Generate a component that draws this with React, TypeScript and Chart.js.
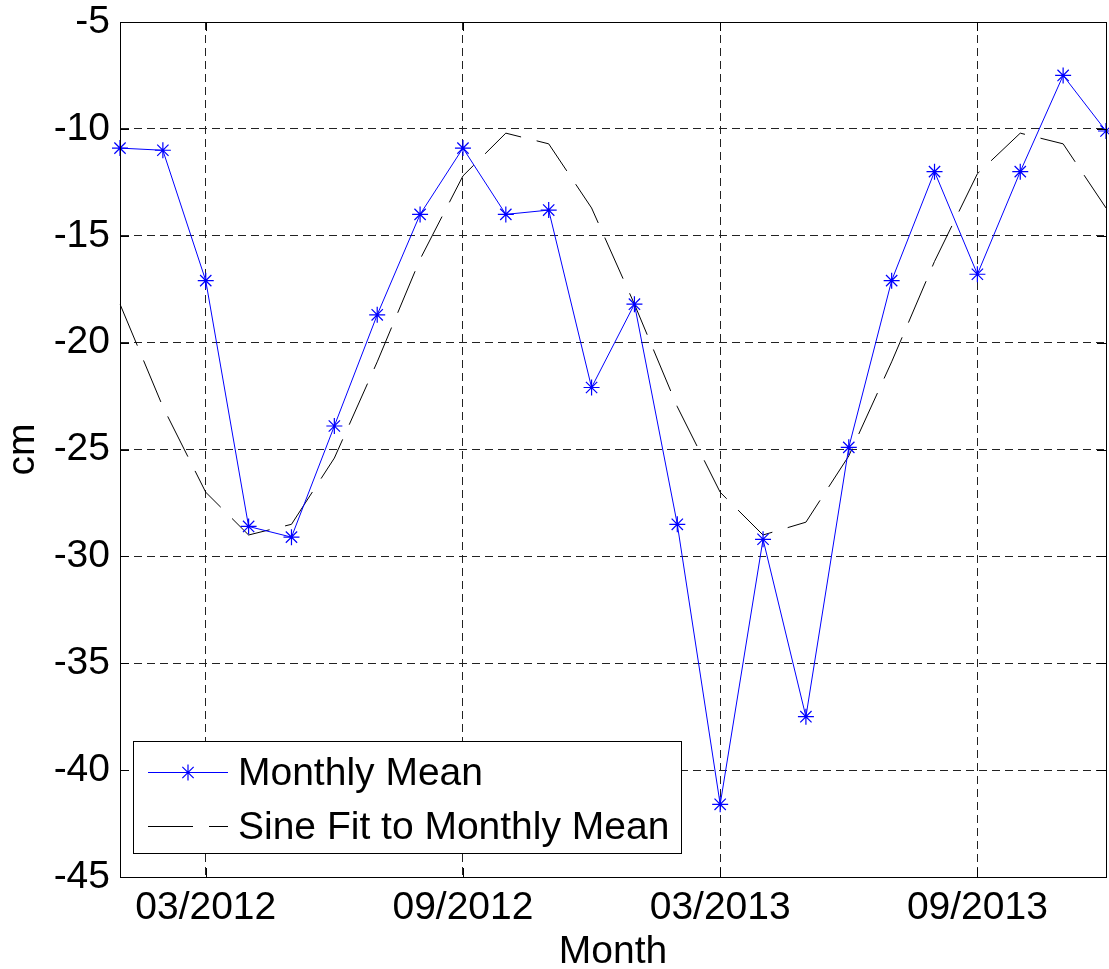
import React, { useEffect, useRef } from "react";
import { Chart, registerables } from "chart.js";

Chart.register(...registerables);

// ---- data ----
const months = [
  "01/2012", "02/2012", "03/2012", "04/2012", "05/2012", "06/2012",
  "07/2012", "08/2012", "09/2012", "10/2012", "11/2012", "12/2012",
  "01/2013", "02/2013", "03/2013", "04/2013", "05/2013", "06/2013",
  "07/2013", "08/2013", "09/2013", "10/2013", "11/2013", "12/2013",
];

const monthlyMean = [
  -10.9, -11.0, -17.1, -28.6, -29.1, -23.9,
  -18.7, -14.0, -10.9, -14.0, -13.8, -22.1,
  -18.2, -28.5, -41.6, -29.2, -37.5, -24.9,
  -17.1, -12.0, -16.8, -12.0, -7.5, -10.1,
];

const sineFit = [
  -18.2, -23.0, -27.0, -29.0, -28.5, -25.4,
  -20.9, -16.1, -12.2, -10.2, -10.7, -13.7,
  -18.2, -23.0, -27.0, -29.0, -28.4, -25.3,
  -20.9, -16.2, -12.1, -10.2, -10.7, -13.7,
];

const labeledMonthPrefixes = ["03", "09"];
const yMin = -45;
const yMax = -5;
const yStep = 5;
const seriesNames = ["Monthly Mean", "Sine Fit to Monthly Mean"];
const xTitle = "Month";
const yTitle = "cm";

const FONT = "'Liberation Sans', Arial, Helvetica, sans-serif";
const FS = 39;
const LEGEND_FS = 39;

function drawStar(ctx: CanvasRenderingContext2D, x: number, y: number, r: number) {
  const d = r * Math.SQRT1_2;
  ctx.beginPath();
  ctx.moveTo(x - r, y); ctx.lineTo(x + r, y);
  ctx.moveTo(x, y - r); ctx.lineTo(x, y + r);
  ctx.moveTo(x - d, y - d); ctx.lineTo(x + d, y + d);
  ctx.moveTo(x - d, y + d); ctx.lineTo(x + d, y - d);
  ctx.stroke();
}

const frameLegendPlugin = {
  id: "frameLegend",
  afterDatasetsDraw(chart: any) {
    const { ctx, chartArea } = chart;
    const { left, right, top, bottom } = chartArea;
    ctx.save();
    ctx.strokeStyle = "#000";
    ctx.lineWidth = 1;
    ctx.setLineDash([]);
    const tl = 9;
    const ys = chart.scales.y;
    ys.ticks.forEach((t: any) => {
      const py = Math.round(ys.getPixelForValue(t.value)) + 0.5;
      ctx.beginPath();
      ctx.moveTo(left, py); ctx.lineTo(left + tl, py);
      ctx.moveTo(right, py); ctx.lineTo(right - tl, py);
      ctx.stroke();
    });
    const xs = chart.scales.x;
    xs.ticks.forEach((t: any) => {
      const px = Math.round(xs.getPixelForValue(t.value)) + 0.5;
      ctx.beginPath();
      ctx.moveTo(px, bottom); ctx.lineTo(px, bottom - tl);
      ctx.moveTo(px, top); ctx.lineTo(px, top + tl);
      ctx.stroke();
    });
    ctx.strokeRect(Math.round(left) + 0.5, Math.round(top) + 0.5, Math.round(right - left), Math.round(bottom - top));
    ctx.restore();
  },
  afterDraw(chart: any) {
    const { ctx, chartArea } = chart;
    const bw = 548, bh = 112;
    const bx = Math.round(chartArea.left) + 13;
    const by = Math.round(chartArea.bottom) - 24 - bh;
    ctx.save();
    ctx.fillStyle = "#fff";
    ctx.fillRect(bx, by, bw, bh);
    ctx.strokeStyle = "#000";
    ctx.lineWidth = 1;
    ctx.strokeRect(bx + 0.5, by + 0.5, bw, bh);
    chart.data.datasets.forEach((ds: any, i: number) => {
      const y = by + 31 + i * 54;
      ctx.strokeStyle = ds.borderColor;
      ctx.lineWidth = ds.borderWidth;
      ctx.setLineDash(ds.borderDash || []);
      ctx.beginPath();
      ctx.moveTo(bx + 15, y + 0.5);
      ctx.lineTo(bx + 95, y + 0.5);
      ctx.stroke();
      ctx.setLineDash([]);
      if (ds.pointRadius > 0) {
        ctx.strokeStyle = ds.pointBorderColor;
        ctx.lineWidth = ds.pointBorderWidth;
        drawStar(ctx, bx + 55, y + 0.5, ds.pointRadius);
      }
      ctx.fillStyle = "#000";
      ctx.font = `${LEGEND_FS}px ${FONT}`;
      ctx.textBaseline = "middle";
      ctx.textAlign = "left";
      ctx.fillText(ds.label, bx + 105, y + 2);
    });
    ctx.restore();
  },
};

const zeroPadding = (scale: any) => {
  scale.paddingTop = 0;
  scale.paddingBottom = 0;
  scale.paddingLeft = 0;
  scale.paddingRight = 0;
};

export default function App() {
  const canvasRef = useRef<HTMLCanvasElement | null>(null);

  useEffect(() => {
    if (!canvasRef.current) return;
    const chart: any = new Chart(canvasRef.current, {
      type: "line",
      data: {
        labels: months,
        datasets: [
          {
            label: seriesNames[0],
            data: monthlyMean,
            borderColor: "#0000ff",
            borderWidth: 1,
            pointStyle: "star",
            pointRadius: 8,
            pointHoverRadius: 8,
            pointBorderColor: "#0000ff",
            pointBackgroundColor: "#0000ff",
            pointBorderWidth: 1.2,
            tension: 0,
            fill: false,
            clip: false as any,
            order: 0,
          },
          {
            label: seriesNames[1],
            data: sineFit,
            borderColor: "#000000",
            borderWidth: 1,
            borderDash: [45, 16],
            pointRadius: 0,
            tension: 0,
            fill: false,
            order: 1,
          },
        ],
      },
      options: {
        animation: false,
        responsive: true,
        maintainAspectRatio: false,
        layout: { autoPadding: false, padding: { left: 0, top: 22, right: 3, bottom: 0 } },
        plugins: {
          legend: { display: false },
          tooltip: { enabled: false },
        },
        scales: {
          x: {
            type: "category",
            offset: false,
            afterBuildTicks: (scale: any) => {
              scale.ticks = scale.ticks.filter((t: any) =>
                labeledMonthPrefixes.some((p) => months[t.value].startsWith(p))
              );
            },
            afterFit: (scale: any) => {
              scale.height = 92;
              zeroPadding(scale);
            },
            grid: {
              color: "#222",
              lineWidth: 1,
              drawTicks: false,
              offset: false,
            },
            border: { display: true, color: "#000", width: 1, dash: [8, 5] },
            ticks: {
              autoSkip: false,
              maxRotation: 0,
              minRotation: 0,
              padding: 8,
              color: "#000",
              font: { family: FONT, size: FS },
            },
            title: {
              display: true,
              text: xTitle,
              color: "#000",
              font: { family: FONT, size: FS },
              padding: { top: 0, bottom: -7 },
            },
          },
          y: {
            type: "linear",
            min: yMin,
            max: yMax,
            afterFit: (scale: any) => {
              scale.width = 120;
              zeroPadding(scale);
            },
            grid: {
              color: "#222",
              lineWidth: 1,
              drawTicks: false,
            },
            border: { display: true, color: "#000", width: 1, dash: [8, 5] },
            ticks: {
              stepSize: yStep,
              padding: 10,
              color: "#000",
              font: { family: FONT, size: FS },
            },
            title: {
              display: true,
              text: yTitle,
              color: "#000",
              font: { family: FONT, size: FS },
              padding: { top: 0, bottom: 0 },
            },
          },
        },
      },
      plugins: [frameLegendPlugin],
    });
    return () => chart.destroy();
  }, []);

  return (
    <div style={{ position: "absolute", left: 0, top: 0, width: 1109, height: 969, background: "#fff" }}>
      <canvas ref={canvasRef} />
    </div>
  );
}
